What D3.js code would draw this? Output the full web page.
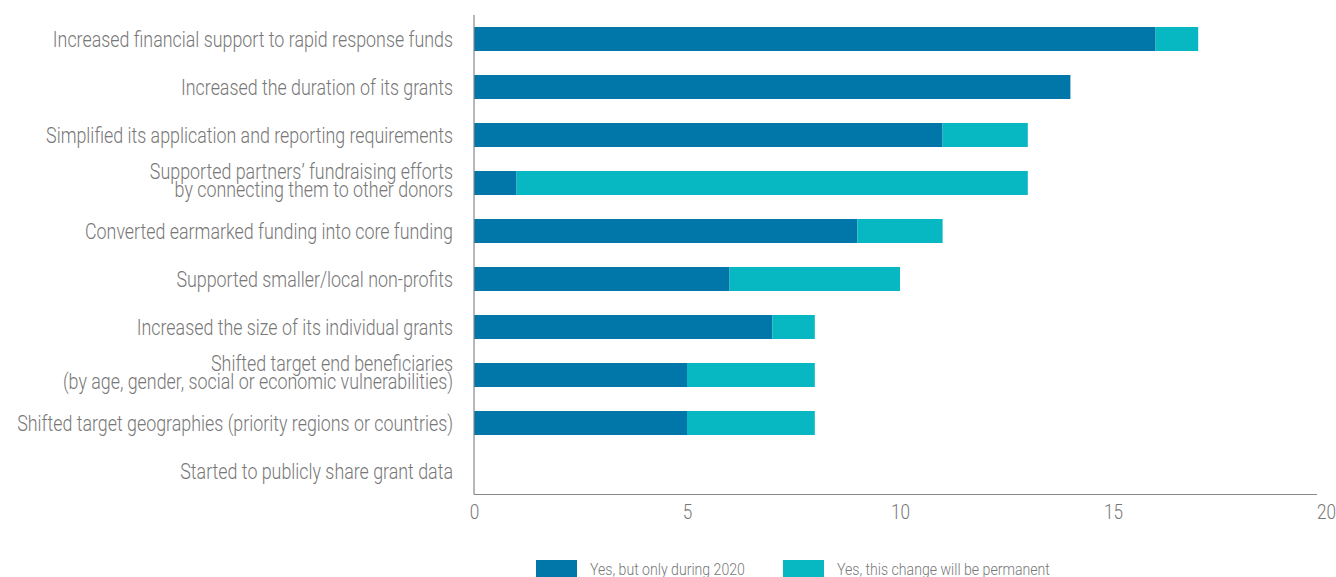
<!DOCTYPE html>
<html><head><meta charset="utf-8">
<script src="https://cdn.jsdelivr.net/npm/d3@7"></script>
<style>body{margin:0;background:#fff}svg{display:block}</style>
</head><body>
<svg id="c" width="1336" height="577"></svg>
<script>
const categories = [
  ["Increased financial support to rapid response funds"],
  ["Increased the duration of its grants"],
  ["Simplified its application and reporting requirements"],
  ["Supported partners’ fundraising efforts", "by connecting them to other donors"],
  ["Converted earmarked funding into core funding"],
  ["Supported smaller/local non-profits"],
  ["Increased the size of its individual grants"],
  ["Shifted target end beneficiaries", "(by age, gender, social or economic vulnerabilities)"],
  ["Shifted target geographies (priority regions or countries)"],
  ["Started to publicly share grant data"]
];
const during2020 = [16, 14, 11, 1, 9, 6, 7, 5, 5, 0];
const permanent  = [1, 0, 2, 12, 2, 4, 1, 3, 3, 0];
const seriesNames = ["Yes, but only during 2020", "Yes, this change will be permanent"];
const xTicks = [0, 5, 10, 15, 20];
const colors = ["#0076a9", "#07b7c2"];

const svg = d3.select("#c");
const font = "Roboto, 'Liberation Sans', sans-serif";
const x = d3.scaleLinear().domain([0, 20]).range([474, 1326]);
const ids = categories.map((d, i) => i);
const y = d3.scaleBand().domain(ids).range([15, 495]).paddingInner(0.5).paddingOuter(0.25);

// bars
const rows = ids.map(i => ({i, a: during2020[i], b: permanent[i]}));
svg.append("g").selectAll("rect.a").data(rows).join("rect")
  .attr("x", d => x(0)).attr("y", d => y(d.i))
  .attr("width", d => x(d.a) - x(0)).attr("height", y.bandwidth())
  .attr("fill", colors[0]);
svg.append("g").selectAll("rect.b").data(rows).join("rect")
  .attr("x", d => x(d.a)).attr("y", d => y(d.i))
  .attr("width", d => x(d.a + d.b) - x(d.a)).attr("height", y.bandwidth())
  .attr("fill", colors[1]);

// axes lines
svg.append("line").attr("x1", 474).attr("x2", 474).attr("y1", 15).attr("y2", 494.5)
  .attr("stroke", "#888").attr("stroke-width", 1.2);
svg.append("line").attr("x1", 474).attr("x2", 1317).attr("y1", 494.5).attr("y2", 494.5)
  .attr("stroke", "#888").attr("stroke-width", 1.2);

// x tick labels
const xAxis = d3.axisBottom(x).tickValues(xTicks).tickSize(0).tickPadding(0);
const gx = svg.append("g").attr("transform", "translate(0,512)").call(xAxis);
gx.select(".domain").remove();
gx.selectAll(".tick text").attr("font-family", font).attr("font-weight", 300)
  .attr("font-size", 19.5).attr("fill", "#777").attr("y", 0).attr("dy", "0.35em")
  .attr("transform", "scale(0.88,1)");

// category labels
const sx = 0.83;
const lab = svg.append("g");
categories.forEach((lines, i) => {
  const cy = y(i) + y.bandwidth() / 2;
  const offs = lines.length === 1 ? [7.5] : [-4.5, 13.5];
  lines.forEach((t, k) => {
    lab.append("text")
      .attr("transform", `translate(453,${cy + offs[k]}) scale(${sx},1)`)
      .attr("text-anchor", "end")
      .attr("font-family", font).attr("font-weight", 300).attr("font-size", 21.5)
      .attr("fill", "#777").text(t);
  });
});

// legend
const leg = svg.append("g");
const legX = [536, 783];
seriesNames.forEach((s, i) => {
  leg.append("rect").attr("x", legX[i]).attr("y", 560).attr("width", 41).attr("height", 20).attr("fill", colors[i]);
  leg.append("text").attr("transform", `translate(${legX[i] + 54},575) scale(0.83,1)`)
    .attr("font-family", font).attr("font-weight", 300).attr("font-size", 17)
    .attr("fill", "#777").text(s);
});
</script>
</body></html>
